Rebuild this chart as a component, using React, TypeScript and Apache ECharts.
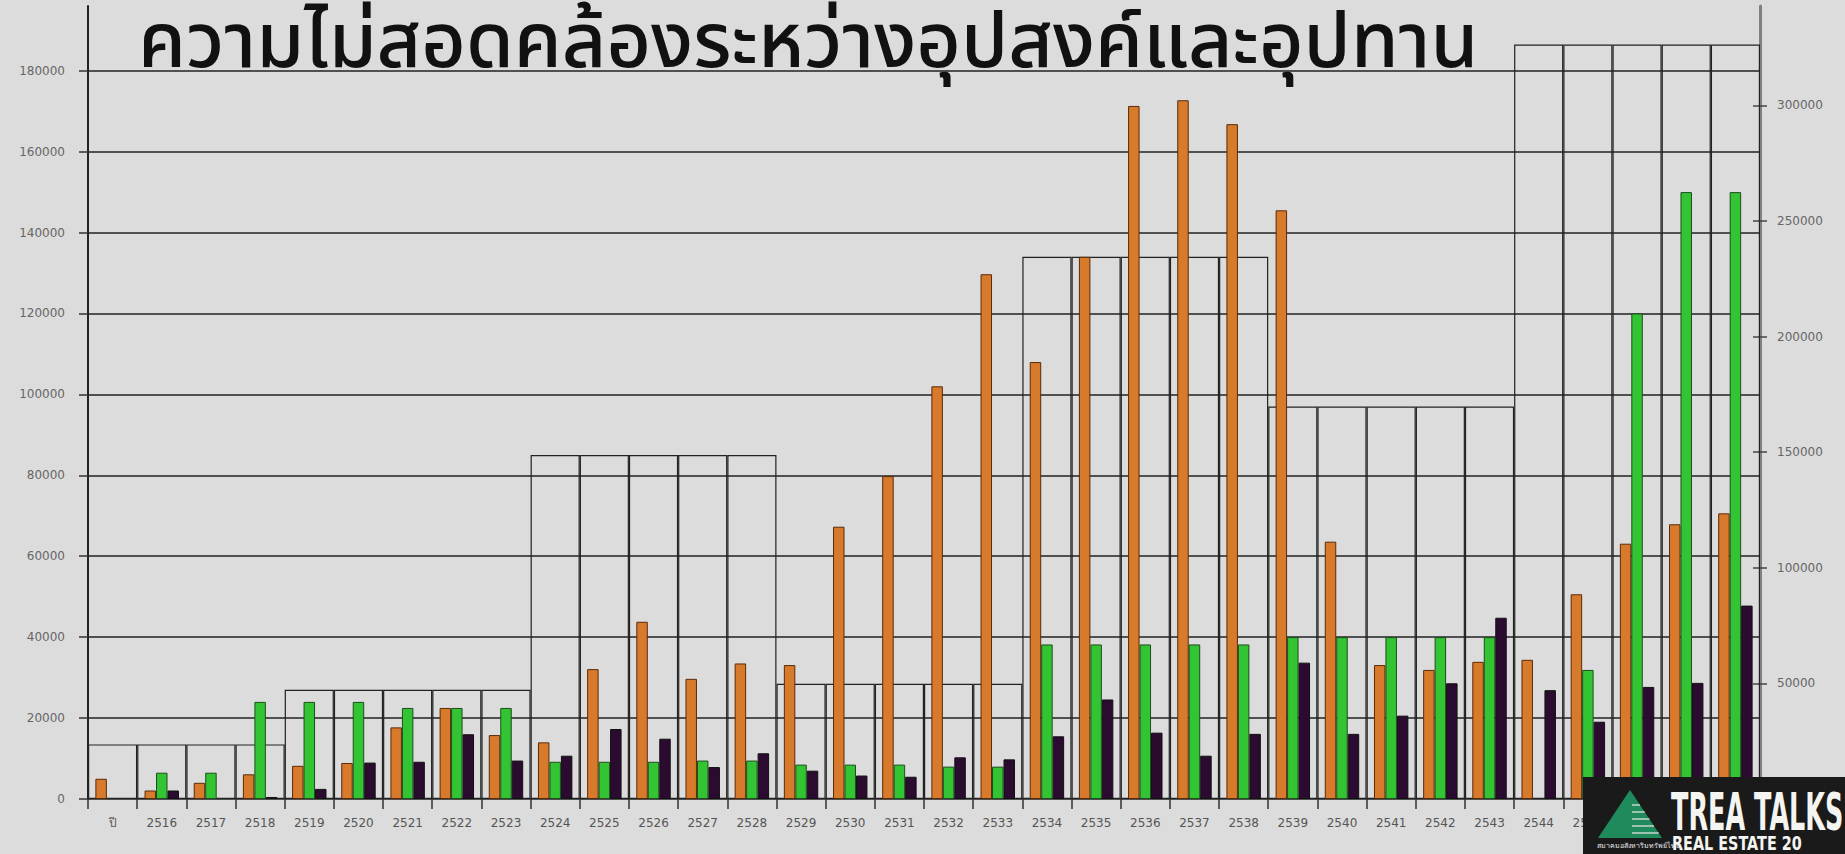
import React, { useEffect, useRef } from "react";
import * as echarts from "echarts";

const titleText = "ความไม่สอดคล้องระหว่างอุปสงค์และอุปทาน";

const categories = [
  "ปี", "2516", "2517", "2518", "2519", "2520", "2521", "2522", "2523",
  "2524", "2525", "2526", "2527", "2528", "2529", "2530", "2531", "2532",
  "2533", "2534", "2535", "2536", "2537", "2538", "2539", "2540", "2541",
  "2542", "2543", "2544", "2545", "2546", "2547", "2548",
];

// orange bars
const orangeValues = [
  5000, 2100, 4000, 6100, 8200, 8900, 17700, 22500, 15800,
  14000, 32100, 43800, 29700, 33500, 33100, 67300, 79800, 102000,
  129700, 108000, 134000, 171300, 172700, 166800, 145500, 63600, 33100,
  31900, 33900, 34400, 50600, 63100, 67900, 70600,
];

// green bars
const greenValues: (number | null)[] = [
  null, 6500, 6500, 24000, 24000, 24000, 22500, 22500, 22500,
  9200, 9200, 9200, 9500, 9500, 8500, 8500, 8500, 8000,
  8000, 38200, 38200, 38200, 38200, 38200, 40000, 40000, 40000,
  40000, 40000, null, 31900, 120000, 150000, 150000,
];

// dark purple bars
const purpleValues: (number | null)[] = [
  null, 2100, null, 500, 2500, 9000, 9200, 16000, 9500,
  10700, 17300, 14900, 7900, 11300, 7000, 5800, 5500, 10300,
  9800, 15500, 24600, 16400, 10700, 16100, 33700, 16100, 20600,
  28600, 44800, 26900, 19100, 27700, 28700, 47800,
];

// plan-period boxes (one value per category)
const planBoxValues = [
  13500, 13500, 13500, 13500,
  27000, 27000, 27000, 27000, 27000,
  85000, 85000, 85000, 85000, 85000,
  28500, 28500, 28500, 28500, 28500,
  134000, 134000, 134000, 134000, 134000,
  97000, 97000, 97000, 97000, 97000,
  186500, 186500, 186500, 186500, 186500,
];

const leftTicks = [0, 20000, 40000, 60000, 80000, 100000, 120000, 140000, 160000, 180000];
const rightTicks = [50000, 100000, 150000, 200000, 250000, 300000];

export default function App() {
  const ref = useRef<HTMLDivElement>(null);

  useEffect(() => {
    if (!ref.current) return;
    const chart = echarts.init(ref.current, null, { renderer: "svg" });
    const plain = (v: number) => String(v);

    const option: any = {
      animation: false,
      backgroundColor: "#dcdcdc",
      title: {
        text: titleText,
        left: 133,
        top: -3,
        textStyle: {
          fontSize: 77,
          lineHeight: 82,
          fontWeight: 500,
          color: "#111",
          fontFamily: "'Noto Sans Thai', 'Noto Sans', 'DejaVu Sans', sans-serif",
        },
      },
      grid: { left: 88, right: 85, top: 6, bottom: 55 },
      xAxis: [
        {
          type: "category",
          data: categories,
          axisLine: { lineStyle: { color: "#222", width: 1.5 } },
          axisTick: { show: true, length: 10, lineStyle: { color: "#333", width: 1.5 } },
          axisLabel: { color: "#555", fontSize: 12, margin: 18, fontFamily: "'DejaVu Sans', sans-serif" },
        },
        {
          type: "category",
          data: categories,
          show: false,
        },
      ],
      yAxis: [
        {
          type: "value",
          position: "left",
          min: 0,
          max: 196000,
          interval: 20000,
          axisLine: { show: true, lineStyle: { color: "#222", width: 2 } },
          axisTick: { show: true, length: 9, customValues: leftTicks, lineStyle: { color: "#333", width: 1.5 } },
          axisLabel: {
            customValues: leftTicks,
            formatter: plain,
            margin: 23,
            color: "#666",
            fontSize: 12,
            fontFamily: "'DejaVu Sans', sans-serif",
          },
          splitLine: { show: false },
        },
        {
          type: "value",
          position: "right",
          min: 0,
          max: 343000,
          interval: 50000,
          axisLine: { show: true, lineStyle: { color: "#808080", width: 3 } },
          axisTick: { show: true, length: 7, customValues: rightTicks, lineStyle: { color: "#444", width: 1.5 } },
          axisLabel: {
            customValues: rightTicks,
            formatter: plain,
            margin: 17,
            color: "#666",
            fontSize: 12,
            fontFamily: "'DejaVu Sans', sans-serif",
          },
          splitLine: { show: false },
        },
        {
          type: "value",
          position: "right",
          min: 0,
          max: 343000,
          interval: 50000,
          axisLine: { show: false },
          axisTick: { show: true, inside: true, length: 7, customValues: rightTicks, lineStyle: { color: "#444", width: 1.5 } },
          axisLabel: { show: false },
          splitLine: { show: false },
        },
      ],
      series: [
        {
          type: "bar",
          name: "อุปทาน",
          data: orangeValues,
          xAxisIndex: 0,
          yAxisIndex: 0,
          barGap: "0%",
          barCategoryGap: "30%",
          z: 3,
          itemStyle: { color: "#d77a2c", borderColor: "#5a2a08", borderWidth: 1 },
          markLine: {
            silent: true,
            z: 1,
            symbol: ["none", "none"],
            label: { show: false },
            lineStyle: { color: "#222", width: 1.5, type: "solid" },
            data: leftTicks.filter((v) => v > 0).map((v) => ({ yAxis: v })),
          },
        },
        {
          type: "bar",
          name: "อุปสงค์",
          data: greenValues,
          xAxisIndex: 0,
          yAxisIndex: 0,
          z: 3,
          itemStyle: { color: "#33c433", borderColor: "#1d4d1d", borderWidth: 1 },
        },
        {
          type: "bar",
          name: "อื่น ๆ",
          data: purpleValues,
          xAxisIndex: 0,
          yAxisIndex: 0,
          z: 3,
          itemStyle: { color: "#2b0b2f", borderColor: "#111", borderWidth: 1 },
        },
        {
          type: "bar",
          name: "แผน",
          data: planBoxValues,
          xAxisIndex: 1,
          yAxisIndex: 0,
          barWidth: "100%",
          z: 2,
          silent: true,
          itemStyle: { color: "rgba(0,0,0,0)", borderColor: "#222", borderWidth: 1.2 },
        },
      ],
      graphic: [
        {
          type: "rect",
          z: 100,
          shape: { x: 1583, y: 777, width: 262, height: 77 },
          style: { fill: "#1b1a1a" },
        },
        {
          type: "polygon",
          z: 101,
          shape: { points: [[1598, 838], [1630, 790], [1662, 838]] },
          style: { fill: "#1f8a5c" },
        },
        ...[805, 812, 819, 826, 833].map((y) => ({
          type: "line",
          z: 102,
          shape: { x1: 1632, y1: y, x2: 1630 + (y - 790) * (32 / 48), y2: y },
          style: { stroke: "#c9d6cc", lineWidth: 1.5 },
        })),
        {
          type: "text",
          z: 102,
          x: 1597,
          y: 842,
          style: { text: "สมาคมอสังหาริมทรัพย์ไทย", fill: "#e8e8e8", fontSize: 7 },
        },
        {
          type: "group",
          x: 1671,
          y: 786,
          scaleX: 0.49,
          z: 102,
          children: [
            {
              type: "text",
              z: 102,
              style: {
                text: "TREA TALKS",
                fill: "#f4f4f0",
                fontSize: 52,
                fontWeight: "bold",
                fontFamily: "'DejaVu Sans', sans-serif",
              },
            },
          ],
        },
        {
          type: "group",
          x: 1672,
          y: 833,
          scaleX: 0.72,
          z: 102,
          children: [
            {
              type: "text",
              z: 102,
              style: {
                text: "REAL ESTATE 20",
                fill: "#f4f4f0",
                fontSize: 20,
                lineHeight: 20,
                fontWeight: "bold",
                fontFamily: "'DejaVu Sans', sans-serif",
              },
            },
          ],
        },
      ],
    };

    chart.setOption(option);
    return () => chart.dispose();
  }, []);

  return (
    <div
      ref={ref}
      style={{ position: "fixed", left: 0, top: 0, width: "1845px", height: "854px" }}
    />
  );
}
